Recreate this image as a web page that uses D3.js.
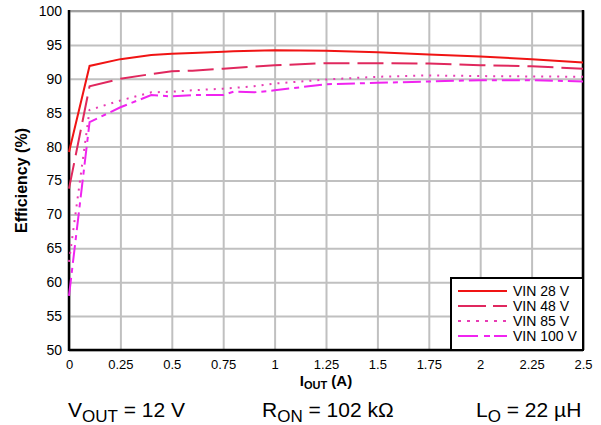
<!DOCTYPE html>
<html>
<head>
<meta charset="utf-8">
<script src="https://cdn.jsdelivr.net/npm/d3@7"></script>
<style>
  body { margin: 0; background: #fff; }
  text { font-family: "Liberation Sans", Arial, sans-serif; fill: #000; }
</style>
</head>
<body>
<svg id="chart" width="601" height="425"></svg>
<script>
// output current (A)
const iout = [0, 0.1, 0.25, 0.4, 0.5, 0.6, 0.75, 0.8, 0.9, 1.0, 1.25, 1.5, 1.75, 2.0, 2.25, 2.5];
// efficiency (%) per input voltage
const vin28 = [79.2, 91.9, 92.9, 93.5, 93.7, 93.8, 94.0, 94.05, 94.15, 94.2, 94.15, 93.9, 93.6, 93.3, 92.9, 92.4];
const vin48 = [73.8, 88.9, 90.0, 90.7, 91.1, 91.2, 91.5, 91.6, 91.8, 92.0, 92.3, 92.3, 92.25, 92.0, 91.85, 91.5];
const vin85 = [63.0, 85.4, 86.8, 88.0, 88.1, 88.3, 88.55, 88.65, 88.9, 89.3, 89.9, 90.3, 90.5, 90.4, 90.35, 90.3];
const vin100 = [58.0, 83.6, 85.8, 87.6, 87.4, 87.6, 87.6, 88.1, 88.0, 88.3, 89.2, 89.4, 89.6, 89.8, 89.8, 89.6];

const seriesNames = ["VIN 28 V", "VIN 48 V", "VIN 85 V", "VIN 100 V"];
const xTicks = [0, 0.25, 0.5, 0.75, 1, 1.25, 1.5, 1.75, 2, 2.25, 2.5];
const yTicks = [50, 55, 60, 65, 70, 75, 80, 85, 90, 95, 100];

const series = [
  { name: seriesNames[0], values: vin28, color: "#f01414", dash: null, legendDash: null },
  { name: seriesNames[1], values: vin48, color: "#e0285e", dash: "26,8", legendDash: "28,7" },
  { name: seriesNames[2], values: vin85, color: "#e83cb4", dash: "2,6", legendDash: "3,6" },
  { name: seriesNames[3], values: vin100, color: "#f024f0", dash: "18,5,5,5", legendDash: "20,6,6,4" }
];

const svg = d3.select("#chart");
const margin = { top: 11, right: 18, bottom: 75, left: 69 };
const width = 601 - margin.left - margin.right;
const height = 425 - margin.top - margin.bottom;

const g = svg.append("g").attr("transform", "translate(" + margin.left + "," + margin.top + ")");

const x = d3.scaleLinear().domain([0, 2.5]).range([0, width]);
const y = d3.scaleLinear().domain([50, 100]).range([height, 0]);

// grid
g.append("g")
  .attr("transform", "translate(0," + height + ")")
  .call(d3.axisBottom(x).tickValues(xTicks).tickSize(-height).tickFormat(""))
  .call(a => a.select(".domain").remove())
  .selectAll("line").attr("stroke", "#c0c0c0").attr("stroke-width", 2);

g.append("g")
  .call(d3.axisLeft(y).tickValues(yTicks).tickSize(-width).tickFormat(""))
  .call(a => a.select(".domain").remove())
  .selectAll("line").attr("stroke", "#c0c0c0").attr("stroke-width", 2);

// frame
g.append("line").attr("x1", 0).attr("x2", width).attr("y1", 0).attr("y2", 0)
  .attr("stroke", "#a0a0a0").attr("stroke-width", 2);
g.append("line").attr("x1", width).attr("x2", width).attr("y1", -1).attr("y2", height)
  .attr("stroke", "#000").attr("stroke-width", 2.5);
g.append("line").attr("x1", 0).attr("x2", width).attr("y1", height).attr("y2", height)
  .attr("stroke", "#000").attr("stroke-width", 2.5);
g.append("line").attr("x1", 0).attr("x2", 0).attr("y1", -1).attr("y2", height + 1)
  .attr("stroke", "#000").attr("stroke-width", 2.5);

// tick labels
const xAxis = g.append("g")
  .attr("transform", "translate(0," + height + ")")
  .call(d3.axisBottom(x).tickValues(xTicks).tickSize(0).tickPadding(10).tickFormat(d => String(d)));
xAxis.select(".domain").remove();
xAxis.selectAll("text").style("font-size", "13px").style("font-family", "Liberation Sans, Arial, sans-serif");

const yAxis = g.append("g")
  .call(d3.axisLeft(y).tickValues(yTicks).tickSize(0).tickPadding(7).tickFormat(d => String(d)));
yAxis.select(".domain").remove();
yAxis.selectAll("text").style("font-size", "14px").style("font-family", "Liberation Sans, Arial, sans-serif");

// lines
const line = d3.line()
  .x((d, i) => x(iout[i]))
  .y(d => y(d));

g.append("g").selectAll("path")
  .data(series.slice().reverse())
  .enter()
  .append("path")
  .attr("d", d => line(d.values))
  .attr("fill", "none")
  .attr("stroke", d => d.color)
  .attr("stroke-width", 2)
  .attr("stroke-dasharray", d => d.dash);

// legend
const lg = g.append("g").attr("transform", "translate(" + (width - 132) + "," + (height - 72) + ")");
lg.append("rect").attr("width", 132).attr("height", 72)
  .attr("fill", "#fff").attr("stroke", "#000").attr("stroke-width", 2);
const rows = lg.selectAll("g.row").data(series).enter().append("g")
  .attr("class", "row")
  .attr("transform", (d, i) => "translate(0," + (13 + i * 15) + ")");
rows.append("line").attr("x1", 7).attr("x2", 56).attr("y1", 0).attr("y2", 0)
  .attr("stroke", d => d.color).attr("stroke-width", 2)
  .attr("stroke-dasharray", d => d.legendDash);
rows.append("text").attr("x", 62).attr("y", 5)
  .style("font-size", "14px")
  .text(d => d.name);

// axis titles
svg.append("text")
  .attr("x", margin.left + width / 2)
  .attr("y", 386)
  .attr("text-anchor", "middle")
  .style("font-size", "15px").style("font-weight", "bold")
  .call(t => {
    t.append("tspan").text("I");
    t.append("tspan").attr("dy", 3).style("font-size", "11px").text("OUT");
    t.append("tspan").attr("dy", -3).text(" (A)");
  });

svg.append("text")
  .attr("transform", "translate(27," + (margin.top + height / 2) + ") rotate(-90)")
  .attr("text-anchor", "middle")
  .style("font-size", "16px").style("font-weight", "bold")
  .text("Efficiency (%)");

// conditions line
const notes = [
  { x: 68, main: "V", sub: "OUT", rest: " = 12 V" },
  { x: 262, main: "R", sub: "ON", rest: " = 102 k\u03A9" },
  { x: 476, main: "L", sub: "O", rest: " = 22 \u00B5H" }
];
notes.forEach(n => {
  const t = svg.append("text").attr("x", n.x).attr("y", 417).style("font-size", "21px");
  t.append("tspan").text(n.main);
  t.append("tspan").attr("dy", 5).style("font-size", "17px").text(n.sub);
  t.append("tspan").attr("dy", -5).text(n.rest);
});
</script>
</body>
</html>
